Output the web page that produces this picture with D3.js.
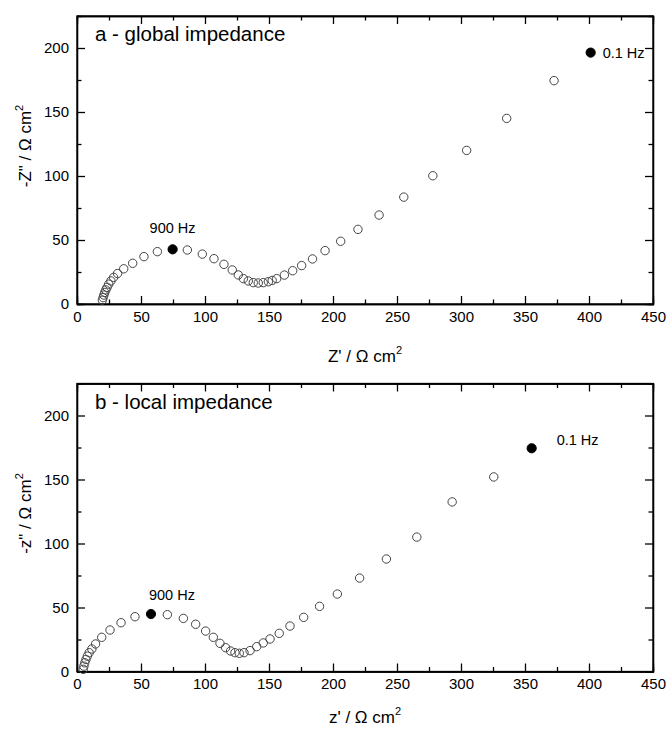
<!DOCTYPE html>
<html>
<head>
<meta charset="utf-8">
<script src="https://cdn.jsdelivr.net/npm/d3@7"></script>
<style>
  body { margin: 0; background: #fff; }
  text { font-family: "Liberation Sans", Arial, sans-serif; }
</style>
</head>
<body>
<svg id="chart" width="670" height="731"></svg>
<script>
// a - global impedance (Z', -Z'') in ohm cm2
var globalRe = [19.8, 20.4, 21.0, 21.7, 22.5, 23.5, 24.8, 26.5, 28.6, 31.7, 36.5, 43.5, 52.3, 62.8, 74.7,
  86.2, 97.9, 107, 114.8, 121.3, 126, 130, 133.8, 137.7, 141.6, 145.5, 149.5, 152.5, 156, 162, 168.5,
  175.5, 184, 193.8, 206, 219.5, 236, 255.3, 278, 304.4, 335.7, 372.7, 401.3];
var globalIm = [3, 5, 7, 9, 11, 13, 15.5, 18, 20.8, 23.8, 27.5, 31.8, 37, 40.9, 42.7,
  42.2, 39, 35.4, 31, 26.6, 22.7, 19.8, 18, 16.7, 16.4, 16.7, 17.4, 18.4, 19.8, 22.6, 26,
  30, 35.2, 41.7, 49, 58.3, 69.5, 83.5, 100.2, 120, 145, 174.5, 196.4];

// b - local impedance (z', -z'')
var localRe = [4.9, 5.4, 6.1, 7.0, 8.1, 9.5, 11.6, 14.5, 19.3, 25.8, 34.4, 45.3, 57.8, 70.6, 83.1,
  92.7, 100.5, 106.5, 111.7, 116.1, 120, 123.4, 126.8, 130.5, 135.2, 140.4, 145.5, 150.8, 158,
  166.4, 177.1, 189.5, 203.4, 220.8, 241.7, 265.5, 293.1, 325.6, 355.2];
var localIm = [1.7, 4.2, 6.8, 9.4, 12, 14.7, 17.6, 21.5, 26.7, 32.4, 38.1, 42.8, 44.9, 44.4, 41.5,
  36.9, 31.6, 26.7, 22, 18.6, 16, 14.7, 14.2, 14.7, 16.3, 19.4, 22.3, 25.4, 29.8,
  35.5, 42.3, 50.9, 60.5, 73, 87.9, 105, 132.5, 152, 174.4];

// frequency markers (index into the arrays above)
var globalMarks = [{ i: 14, label: "900 Hz" }, { i: 42, label: "0.1 Hz" }];
var localMarks = [{ i: 12, label: "900 Hz" }, { i: 38, label: "0.1 Hz" }];

var xTicks = [0, 50, 100, 150, 200, 250, 300, 350, 400, 450];
var yTicks = [0, 50, 100, 150, 200];

var svg = d3.select("#chart");

var x = d3.scaleLinear().domain([0, 450]).range([77, 653]);

function panel(top, title, xTitle, yTitle, re, im, marks, labelPos, xTitleGap) {
  var y = d3.scaleLinear().domain([0, 225]).range([top + 288, top]);
  var bottom = top + 288;
  var g = svg.append("g");

  var pts = re.map(function(v, k) { return { x: v, y: im[k] }; });

  // minor ticks (every 25) on all sides
  var minor = d3.range(25, 450, 50);
  var minorY = d3.range(25, 225, 50);
  g.append("g").attr("transform", "translate(0," + bottom + ")")
    .call(d3.axisBottom(x).tickValues(minor).tickSize(-4.5).tickFormat(""));
  g.append("g").attr("transform", "translate(0," + top + ")")
    .call(d3.axisTop(x).tickValues(minor).tickSize(-4.5).tickFormat(""));
  g.append("g").attr("transform", "translate(77,0)")
    .call(d3.axisLeft(y).tickValues(minorY).tickSize(-4.5).tickFormat(""));
  g.append("g").attr("transform", "translate(653,0)")
    .call(d3.axisRight(y).tickValues(minorY).tickSize(-4.5).tickFormat(""));

  // major ticks
  g.append("g").attr("class", "xaxis").attr("transform", "translate(0," + bottom + ")")
    .call(d3.axisBottom(x).tickValues(xTicks).tickSize(-8).tickSizeOuter(0).tickPadding(7));
  g.append("g").attr("transform", "translate(0," + top + ")")
    .call(d3.axisTop(x).tickValues(xTicks).tickSize(-8).tickSizeOuter(0).tickFormat(""));
  g.append("g").attr("class", "yaxis").attr("transform", "translate(77,0)")
    .call(d3.axisLeft(y).tickValues(yTicks).tickSize(-8).tickSizeOuter(0).tickPadding(8));
  g.append("g").attr("transform", "translate(653,0)")
    .call(d3.axisRight(y).tickValues(yTicks).tickSize(-8).tickSizeOuter(0).tickFormat(""));

  g.selectAll(".tick line").attr("stroke", "#000").attr("stroke-width", 1.3);
  g.selectAll(".domain").attr("stroke", "#000").attr("stroke-width", 1.3);
  g.selectAll(".tick text").attr("font-size", 15).attr("fill", "#000")
    .style("font-family", "'Liberation Sans', Arial, sans-serif");

  // frame
  g.append("rect").attr("x", 77).attr("y", top).attr("width", 576).attr("height", 288)
    .attr("fill", "none").attr("stroke", "#000").attr("stroke-width", 1.3);

  // data
  var filled = marks.map(function(m) { return m.i; });
  g.append("g").selectAll("circle")
    .data(pts)
    .enter()
    .append("circle")
    .attr("cx", function(d) { return x(d.x); })
    .attr("cy", function(d) { return y(d.y); })
    .attr("r", function(d, k) { return filled.indexOf(k) >= 0 ? 4.6 : 4.2; })
    .attr("fill", function(d, k) { return filled.indexOf(k) >= 0 ? "#000" : "#fff"; })
    .attr("fill-opacity", function(d, k) { return filled.indexOf(k) >= 0 ? 1 : 0; })
    .attr("stroke", function(d, k) { return filled.indexOf(k) >= 0 ? "#000" : "#444"; })
    .attr("stroke-width", 1);

  // frequency labels
  marks.forEach(function(m, k) {
    var p = pts[m.i];
    g.append("text")
      .attr("x", x(p.x) + labelPos[k][0])
      .attr("y", y(p.y) + labelPos[k][1])
      .attr("font-size", 14.5)
      .text(m.label);
  });

  // panel title
  g.append("text").attr("x", 95).attr("y", top + 25).attr("font-size", 20.5).text(title);

  // axis titles
  var xt = g.append("text").attr("x", 365).attr("y", bottom + xTitleGap)
    .attr("text-anchor", "middle").attr("font-size", 17).text(xTitle);
  xt.append("tspan").attr("font-size", 11).attr("dy", -8).text("2");

  var yt = g.append("text")
    .attr("transform", "translate(31," + (top + 130) + ") rotate(-90)")
    .attr("text-anchor", "middle").attr("font-size", 17).text(yTitle);
  yt.append("tspan").attr("font-size", 11).attr("dy", -8).text("2");
}

panel(16, "a - global impedance", "Z' / \u03A9 cm", "-Z\" / \u03A9 cm",
  globalRe, globalIm, globalMarks, [[-23, -16], [12, 5]], 58);
panel(383.5, "b - local impedance", "z' / \u03A9 cm", "-z\" / \u03A9 cm",
  localRe, localIm, localMarks, [[-2, -14], [25, -3]], 51);
</script>
</body>
</html>
